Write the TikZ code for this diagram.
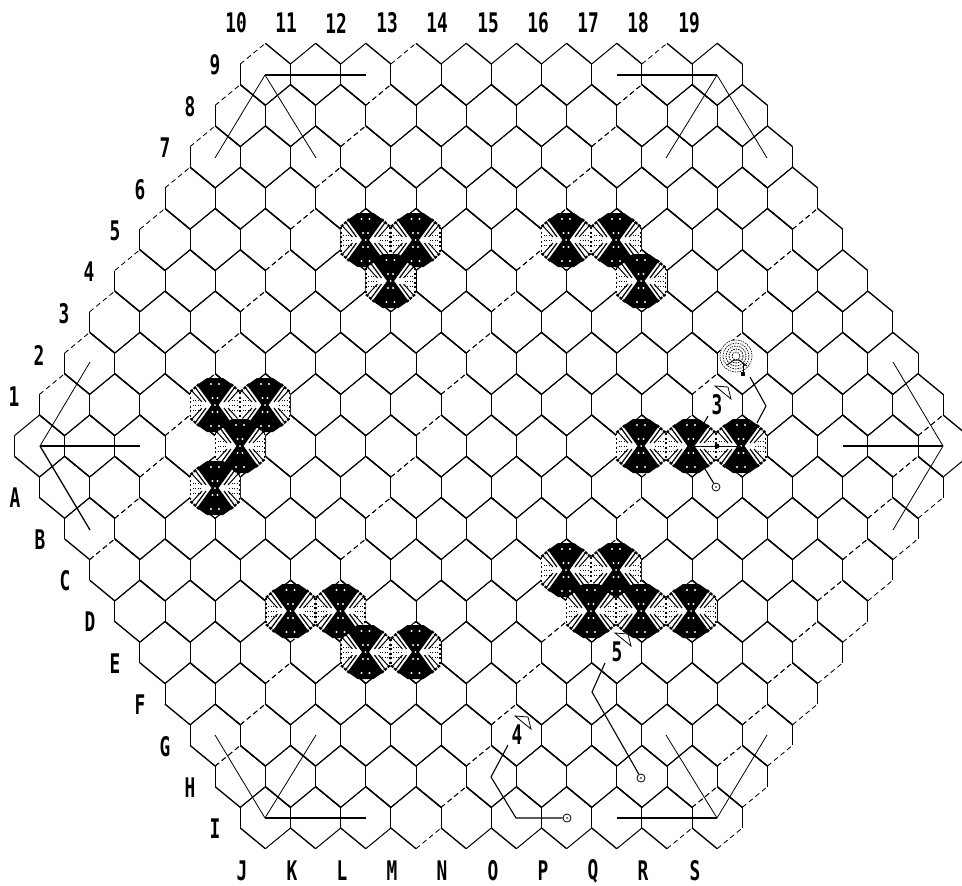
\documentclass[tikz,border=0pt]{standalone}
\usepackage{fontspec}
\usepackage{tikz}
\usetikzlibrary{positioning}
\newfontfamily\boardfont[FakeStretch=0.66]{DejaVu Sans Mono}
\newcommand{\stone}[1]{%
  \begin{scope}[shift={(#1)}]
    \fill[white] (0,-29) -- (25,-13) -- (25,13) -- (0,29) -- (-25,13) -- (-25,-13) -- cycle;
    \fill[black] (-18,-20) -- (-8,-27) -- (8,-27) -- (18,-20) -- (3.5,0) -- (18,20) -- (8,27)
      -- (-8,27) -- (-18,20) -- (-3.5,0) -- cycle;
    \foreach \sx in {-1,1}{
      \foreach \h in {-5,0,5}{
        \draw[line width=.7pt,dash pattern=on 1pt off 1.5pt] (\sx*14,\h) -- (\sx*24,\h);
      }
      \foreach \sy in {-1,1}{
        \draw[line width=1.2pt] (\sx*9,\sy*3) -- (\sx*20,\sy*18);
        \draw[line width=1pt] (\sx*13,\sy*3) -- (\sx*23,\sy*14);
        \draw[line width=2pt,dash pattern=on 3pt off 1.2pt] (\sx*16,\sy*21) -- (\sx*25,\sy*13);
        \fill[white] (\sx*4,\sy*21) circle (1.2);
        \fill[white] (\sx*2.5,\sy*7) circle (1.1);
      }
      \draw[line width=1.6pt,dash pattern=on 2pt off 2.5pt] (\sx*24.5,-13) -- (\sx*24.5,13);
    }
    \fill[white] (0,0) circle (1);
  \end{scope}}
\newcommand{\flag}[1]{\draw[flagline] (#1) ++(-2,-19) -- ++(13,1) -- ++(3,12) -- cycle;}
\begin{document}
\begin{tikzpicture}[x=1pt,y=-1pt,
    back/.style={line width=1.35pt},
    upright/.style={line width=1pt},
    brokenline/.style={line width=.85pt,dash pattern=on 5pt off 3.5pt},
    side/.style={line width=1pt},
    rayheavy/.style={line width=1.3pt},
    raythin/.style={line width=.8pt},
    leader/.style={line width=1.1pt},
    flagline/.style={line width=.8pt},
    endmark/.style={circle,draw,line width=.8pt,fill=white,minimum size=8pt,inner sep=0pt},
    endsquare/.style={rectangle,fill=black,minimum size=4pt,inner sep=0pt},
    axis/.style={font=\boardfont\bfseries\fontsize{27}{27}\selectfont,inner sep=0pt}]
  \useasboundingbox (0,0) rectangle (962,886);
  % board
  \foreach \r in {-9,...,9}{
    \pgfmathtruncatemacro{\n}{18-abs(\r)}
    \foreach \i in {0,...,\n}{
      \pgfmathsetmacro{\cx}{39.5+50.2*\i+25.1*abs(\r)}
      \pgfmathsetmacro{\cy}{446+41.3*\r}
      \draw[side] (\cx-25.1,\cy-10.3) -- (\cx-25.1,\cy+10.3);
      \draw[side] (\cx+25.1,\cy-10.3) -- (\cx+25.1,\cy+10.3);
      \draw[back] (\cx,\cy-31) -- (\cx+25.1,\cy-10.3);
      \draw[back] (\cx-25.1,\cy+10.3) -- (\cx,\cy+31);
      % the upward slant edges come out broken in places
      \pgfmathtruncatemacro{\ua}{mod(round((\cx-12.5)/25.1)*7+round((\cy-20.6)/20.65)*11+500,5)==0 || (\r<0 && \i==0)}
      \pgfmathtruncatemacro{\ub}{mod(round((\cx+12.5)/25.1)*7+round((\cy+20.6)/20.65)*11+500,5)==0 || (\r>0 && \i==\n)}
      \ifnum\ua=1
        \draw[brokenline] (\cx-25.1,\cy-10.3) -- (\cx,\cy-31);
      \else
        \draw[upright] (\cx-25.1,\cy-10.3) -- (\cx,\cy-31);
      \fi
      \ifnum\ub=1
        \draw[brokenline] (\cx,\cy+31) -- (\cx+25.1,\cy+10.3);
      \else
        \draw[upright] (\cx,\cy+31) -- (\cx+25.1,\cy+10.3);
      \fi
    }
  }
  % stones
  \foreach \p in {{365.5,240},{415.5,240},{390.5,281},{566,240},{616,240},{641,281},
      {215,405},{265,405},{240,446},{215,488},{641,446},{691,446},{741,446},
      {290.5,611},{340.5,611},{365.5,652},{415.5,652},
      {566,570},{616,570},{591,611},{641,611},{691,611}}{
    \stone{\p}
  }
  % small stone
  \fill[white] (736,356) circle (16);
  \foreach \rad/\wd in {16/.6,13/.6,10/.7,7/.8,4/.8}{
    \draw[line width=\wd pt,dash pattern=on 1.5pt off 1pt] (736,356) circle (\rad);
  }
  \draw[line width=1pt] (727,365) -- (734,360) -- (739,360) -- (747,366);
  % corner rays
  \coordinate (cornerNW) at (265,75);
  \coordinate (cornerNE) at (717,75);
  \coordinate (cornerW) at (40,446);
  \coordinate (cornerE) at (943,446);
  \coordinate (cornerSW) at (265,818);
  \coordinate (cornerSE) at (717,818);
  \draw[rayheavy] (cornerNW) -- (366,75);
  \draw[raythin] (cornerNW) -- (316,158);
  \draw[raythin] (cornerNW) -- (215,158);
  \draw[rayheavy] (cornerNE) -- (617,75);
  \draw[raythin] (cornerNE) -- (767,158);
  \draw[raythin] (cornerNE) -- (666,158);
  \draw[rayheavy] (cornerW) -- (140,446);
  \draw[rayheavy] (cornerW) -- (90,530);
  \draw[raythin] (cornerW) -- (90,362);
  \draw[rayheavy] (cornerE) -- (843,446);
  \draw[raythin] (cornerE) -- (893,362);
  \draw[raythin] (cornerE) -- (893,530);
  \draw[rayheavy] (cornerSW) -- (366,818);
  \draw[raythin] (cornerSW) -- (215,735);
  \draw[raythin] (cornerSW) -- (316,735);
  \draw[rayheavy] (cornerSE) -- (617,818);
  \draw[raythin] (cornerSE) -- (666,735);
  \draw[raythin] (cornerSE) -- (767,735);
  % annotations
  \node[axis] (move3) at (717,405) {3};
  \node[axis] (move4) at (517,735) {4};
  \node[axis] (move5) at (617,652) {5};
  \flag{move3.center}
  \flag{move4.center}
  \flag{move5.center}
  \node[endmark] (end3) at (716,487) {};
  \node[endmark] (end4) at (567,818) {};
  \node[endmark] (end5) at (641,778) {};
  \node[endsquare] (end1) at (743,374) {};
  \foreach \m in {end3,end4,end5}{\fill (\m) circle (.8);}
  \coordinate (hub3) at (691,446);
  \fill (hub3) circle (3);
  \draw[leader] (708,416) -- (hub3) -- (end3);
  \draw[line width=.9pt] (hub3) -- (741,446);
  \fill (717,446) circle (2.5);
  \coordinate (start4) at (508,745);
  \coordinate (bend4) at (491,777);
  \coordinate (foot4) at (516,818);
  \draw[leader] (start4) -- (bend4) -- (foot4) -- (end4);
  \coordinate (start5) at (605,663);
  \coordinate (bend5) at (592,692);
  \draw[leader] (start5) -- (bend5) -- (end5);
  \coordinate (start1) at (750,377);
  \coordinate (bend1) at (766,406);
  \coordinate (foot1) at (757,423);
  \draw[leader] (start1) -- (bend1) -- (foot1);
  \draw[line width=.6pt] (743,364) -- (end1);
  % axis labels
  \foreach \t/\x in {10/236,11/286,12/336,13/387,14/437,15/488,16/538,17/588,18/638,19/689}{
    \node[axis] (top\t) at (\x,23) {\t};
  }
  \foreach \t/\x/\y in {9/215/65,8/190/107,7/165/148,6/140/190,5/115/231,4/89/272,3/64/314,2/39/355,1/14/397}{
    \node[axis] (left\t) at (\x,\y) {\t};
  }
  \foreach \t/\x/\y in {A/15/498,B/40/540,C/65/581,D/90/622,E/115/664,F/140/705,G/165/747,H/190/788,I/215/829}{
    \node[axis] (left\t) at (\x,\y) {\t};
  }
  \foreach \t/\x in {J/242,K/292,L/342,M/392,N/442,O/493,P/543,Q/593,R/643,S/695}{
    \node[axis] (bot\t) at (\x,871) {\t};
  }
\end{tikzpicture}
\end{document}
